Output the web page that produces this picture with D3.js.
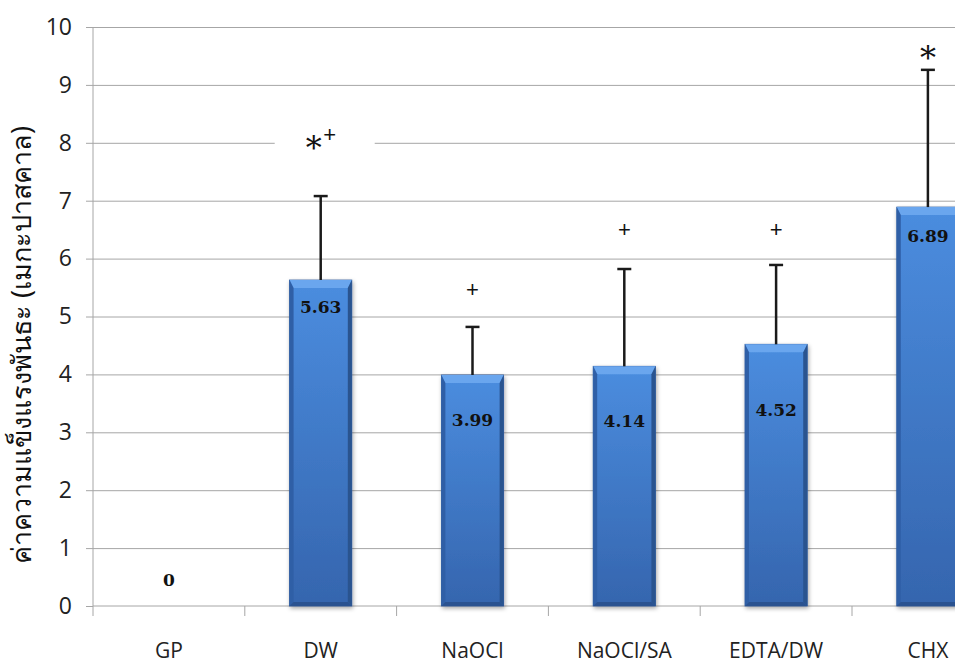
<!DOCTYPE html>
<html>
<head>
<meta charset="utf-8">
<script src="https://cdn.jsdelivr.net/npm/d3@7"></script>
<style>
  html, body { margin: 0; padding: 0; background: #fff; }
  svg { display: block; }
</style>
</head>
<body>
<div id="chart"></div>
<script>
// data
const groups = ['GP', 'DW', 'NaOCl', 'NaOCl/SA', 'EDTA/DW', 'CHX'];
const means = [0, 5.63, 3.99, 4.14, 4.52, 6.89];
const upper = [0, 7.08, 4.82, 5.82, 5.89, 9.26];
const marks = ['', '*+', '+', '+', '+', '*'];
const markAt = [null, 8.0, 5.45, 6.5, 6.5, 9.55];
const labelAt = [0.45, 5.17, 3.21, 3.2, 3.39, 6.39];
const yTicks = [0, 1, 2, 3, 4, 5, 6, 7, 8, 9, 10];
const yTitle = 'ค่าความแข็งแรงพันธะ (เมกะปาสคาล)';

const W = 955, H = 663;
const plotLeft = 93, plotTop = 27, plotBottom = 606;
const step = 151.8;

const svg = d3.select('#chart').append('svg')
  .attr('width', W)
  .attr('height', H);

const x = d3.scaleBand()
  .domain(groups)
  .range([plotLeft, plotLeft + step * groups.length])
  .paddingInner(0.59)
  .paddingOuter(0.295);

const y = d3.scaleLinear().domain([0, 10]).range([plotBottom, plotTop]);

const defs = svg.append('defs');
const face = defs.append('linearGradient')
  .attr('id', 'face').attr('x1', 0).attr('x2', 0).attr('y1', 0).attr('y2', 1);
face.append('stop').attr('offset', '0%').attr('stop-color', '#4b8ddf');
face.append('stop').attr('offset', '100%').attr('stop-color', '#3565ae');
const filt = defs.append('filter').attr('id', 'shadow')
  .attr('x', '-20%').attr('y', '-5%').attr('width', '140%').attr('height', '115%');
filt.append('feDropShadow')
  .attr('dx', 1).attr('dy', 2).attr('stdDeviation', 2)
  .attr('flood-color', '#000').attr('flood-opacity', 0.35);

// gridlines
svg.append('g')
  .attr('class', 'grid')
  .attr('transform', 'translate(' + plotLeft + ',0)')
  .call(d3.axisLeft(y).tickValues(yTicks.slice(1)).tickSize(-(W - plotLeft)).tickFormat(''))
  .call(g => g.select('.domain').remove())
  .call(g => g.selectAll('line').attr('stroke', '#a6a6a6').attr('stroke-width', 1));

// y axis
svg.append('g')
  .attr('class', 'y axis')
  .attr('transform', 'translate(' + plotLeft + ',0)')
  .call(d3.axisLeft(y).tickValues(yTicks).tickSize(7).tickPadding(14))
  .call(g => g.select('.domain').attr('stroke', '#a6a6a6').attr('d', 'M0,' + plotTop + 'V' + plotBottom))
  .call(g => g.selectAll('line').attr('stroke', '#a6a6a6'))
  .call(g => g.selectAll('text')
    .attr('font-family', '"Open Sans", "Liberation Sans", sans-serif')
    .attr('font-size', 23)
    .attr('fill', '#222'));

// x axis line and boundary ticks
const xa = svg.append('g').attr('class', 'x axis');
xa.append('line')
  .attr('x1', plotLeft).attr('x2', W).attr('y1', plotBottom).attr('y2', plotBottom)
  .attr('stroke', '#a6a6a6');
xa.selectAll('line.tk')
  .data(groups)
  .join('line')
  .attr('class', 'tk')
  .attr('x1', d => x(d) - x.step() * x.paddingInner() / 2)
  .attr('x2', d => x(d) - x.step() * x.paddingInner() / 2)
  .attr('y1', plotBottom).attr('y2', plotBottom + 10)
  .attr('stroke', '#a6a6a6');
xa.selectAll('text')
  .data(groups)
  .join('text')
  .attr('x', d => x(d) + x.bandwidth() / 2)
  .attr('y', 658)
  .attr('text-anchor', 'middle')
  .attr('font-family', '"Open Sans", "Liberation Sans", sans-serif')
  .attr('font-size', 21)
  .attr('fill', '#222')
  .text(d => d);

// annotation boxes (white, hide gridlines behind the symbols)
const ann = groups.map((g, i) => ({ g, m: marks[i], at: markAt[i] })).filter(d => d.m);
svg.append('g').selectAll('rect')
  .data(ann)
  .join('rect')
  .attr('x', d => x(d.g) + x.bandwidth() / 2 - (d.m.length > 1 ? 46 : 34))
  .attr('width', d => d.m.length > 1 ? 100 : 68)
  .attr('y', d => y(d.at) - 24)
  .attr('height', 48)
  .attr('fill', '#fff');

// bars
const bars = svg.append('g').selectAll('g.bar')
  .data(groups.map((g, i) => ({ g, v: means[i], hi: upper[i] })).filter(d => d.v > 0))
  .join('g')
  .attr('class', 'bar');

const bev = 8, sb = 4;
bars.append('rect')
  .attr('x', d => x(d.g))
  .attr('y', d => y(d.v))
  .attr('width', x.bandwidth())
  .attr('height', d => y(0) - y(d.v))
  .attr('fill', 'url(#face)')
  .attr('stroke', '#2d5a9c')
  .attr('stroke-width', 0.8)
  .attr('filter', 'url(#shadow)');
// top bevel
bars.append('path')
  .attr('d', d => {
    const x0 = x(d.g), x1 = x0 + x.bandwidth(), yt = y(d.v);
    return 'M' + x0 + ',' + yt + 'L' + x1 + ',' + yt + 'L' + (x1 - sb) + ',' + (yt + bev) + 'L' + (x0 + sb) + ',' + (yt + bev) + 'Z';
  })
  .attr('fill', '#6aa6ee');
// side bevels
bars.append('path')
  .attr('d', d => {
    const x0 = x(d.g), yt = y(d.v), yb = y(0);
    return 'M' + x0 + ',' + yt + 'L' + (x0 + sb) + ',' + (yt + bev) + 'L' + (x0 + sb) + ',' + (yb - sb) + 'L' + x0 + ',' + yb + 'Z';
  })
  .attr('fill', '#2f5fa6');
bars.append('path')
  .attr('d', d => {
    const x1 = x(d.g) + x.bandwidth(), yt = y(d.v), yb = y(0);
    return 'M' + x1 + ',' + yt + 'L' + (x1 - sb) + ',' + (yt + bev) + 'L' + (x1 - sb) + ',' + (yb - sb) + 'L' + x1 + ',' + yb + 'Z';
  })
  .attr('fill', '#2a548f');
bars.append('path')
  .attr('d', d => {
    const x0 = x(d.g), x1 = x0 + x.bandwidth(), yb = y(0);
    return 'M' + x0 + ',' + yb + 'L' + (x0 + sb) + ',' + (yb - sb) + 'L' + (x1 - sb) + ',' + (yb - sb) + 'L' + x1 + ',' + yb + 'Z';
  })
  .attr('fill', '#2a5290');

// error bars
const eb = bars.append('g').attr('stroke', '#1a1a1a').attr('stroke-width', 2.5);
eb.append('line')
  .attr('x1', d => x(d.g) + x.bandwidth() / 2)
  .attr('x2', d => x(d.g) + x.bandwidth() / 2)
  .attr('y1', d => y(d.v))
  .attr('y2', d => y(d.hi));
eb.append('line')
  .attr('x1', d => x(d.g) + x.bandwidth() / 2 - 7)
  .attr('x2', d => x(d.g) + x.bandwidth() / 2 + 7)
  .attr('y1', d => y(d.hi))
  .attr('y2', d => y(d.hi));

// value labels
svg.append('g').selectAll('text')
  .data(groups.map((g, i) => ({ g, v: means[i], lab: labelAt[i] })))
  .join('text')
  .attr('x', d => x(d.g) + x.bandwidth() / 2)
  .attr('y', d => y(d.lab))
  .attr('dy', '0.35em')
  .attr('text-anchor', 'middle')
  .attr('font-family', '"DejaVu Serif", "Liberation Serif", serif')
  .attr('font-weight', 'bold')
  .attr('font-size', 17)
  .attr('fill', '#111')
  .text(d => d.v === 0 ? '0' : d.v.toFixed(2));

// significance marks
const mk = svg.append('g').selectAll('g')
  .data(ann)
  .join('g')
  .attr('transform', d => 'translate(' + (x(d.g) + x.bandwidth() / 2) + ',' + y(d.at) + ')');
mk.filter(d => d.m.includes('*')).append('text')
  .attr('x', d => d.m.length > 1 ? -7 : 0)
  .attr('y', 16)
  .attr('text-anchor', 'middle')
  .attr('font-family', '"DejaVu Serif", "Liberation Serif", serif')
  .attr('font-size', 32)
  .attr('fill', '#111')
  .text('*');
mk.filter(d => d.m.includes('+')).append('text')
  .attr('x', d => d.m.length > 1 ? 9 : 0)
  .attr('y', d => d.m.length > 1 ? -1 : 7)
  .attr('text-anchor', 'middle')
  .attr('font-family', '"Liberation Sans", sans-serif')
  .attr('font-size', 22)
  .attr('fill', '#111')
  .text('+');

// y axis title
svg.append('text')
  .attr('transform', 'translate(22,345) rotate(-90)')
  .attr('dy', '0.35em')
  .attr('text-anchor', 'middle')
  .attr('font-family', '"Noto Sans", "DejaVu Sans", sans-serif')
  .attr('font-size', 27)
  .attr('fill', '#111')
  .text(yTitle);
</script>
</body>
</html>
